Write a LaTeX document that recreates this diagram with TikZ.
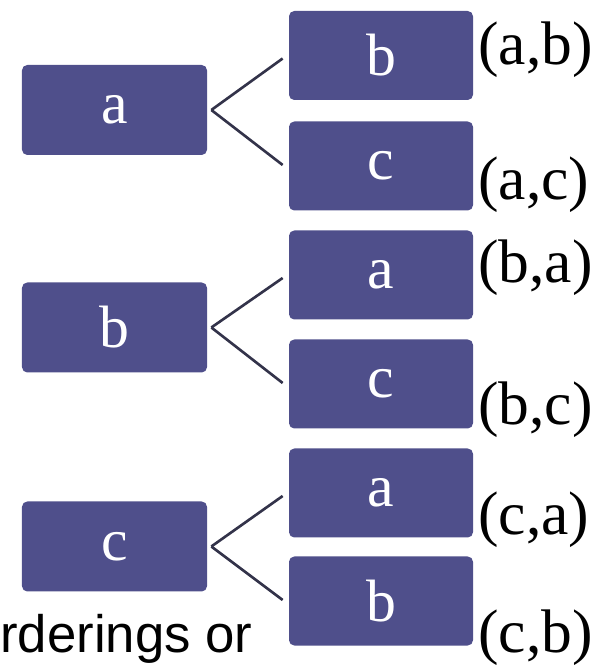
\documentclass[tikz,border=0pt]{standalone}
\usepackage{fontspec}
\setmainfont{Liberation Serif}
\newfontfamily\slidesans{Liberation Sans}
\usepackage{tikz}
\usetikzlibrary{positioning}
\definecolor{pairbox}{HTML}{4F4F8B}
\definecolor{pairline}{HTML}{33334A}

\begin{document}
\begin{tikzpicture}[
  letter/.style={draw=none,fill=pairbox,rounded corners=3pt,text=white,
    minimum width=3.68cm,minimum height=1.78cm,inner sep=0pt,
    font=\fontsize{34}{40}\selectfont},
  pairlbl/.style={anchor=west,inner sep=0pt,font=\fontsize{35}{40}\selectfont},
  edge/.style={draw=pairline,line width=1.5pt}
]
  \useasboundingbox (0,0) rectangle (12.16,13.42);

  % first element a
  \node[letter,minimum width=3.70cm,minimum height=1.80cm] (ra) at (2.29,11.22) {a};
  \node[letter] (ab) at (7.62,12.31) {b};
  \node[letter] (ac) at (7.62,10.10) {c};
  \draw[edge] ([xshift=0.08cm]ra.east) -- ([xshift=-0.12cm,yshift=-0.06cm]ab.west);
  \draw[edge] ([xshift=0.08cm]ra.east) -- ([xshift=-0.12cm,yshift=0.02cm]ac.west);
  \node[pairlbl] (lab) at (9.56,12.42) {(a,b)};
  \node[pairlbl] (lac) at (9.56,9.72) {(a,c)};

  % first element b
  \node[letter,minimum width=3.70cm,minimum height=1.80cm] (rb) at (2.29,6.87) {b};
  \node[letter] (ba) at (7.62,7.92) {a};
  \node[letter] (bc) at (7.62,5.74) {c};
  \draw[edge] ([xshift=0.08cm]rb.east) -- ([xshift=-0.12cm,yshift=-0.06cm]ba.west);
  \draw[edge] ([xshift=0.08cm]rb.east) -- ([xshift=-0.12cm,yshift=0.02cm]bc.west);
  \node[pairlbl] (lba) at (9.56,8.06) {(b,a)};
  \node[pairlbl] (lbc) at (9.56,5.22) {(b,c)};

  % first element c
  \node[letter,minimum width=3.70cm,minimum height=1.80cm] (rc) at (2.29,2.49) {c};
  \node[letter] (ca) at (7.62,3.56) {a};
  \node[letter] (cb) at (7.62,1.40) {b};
  \draw[edge] ([xshift=0.08cm]rc.east) -- ([xshift=-0.12cm,yshift=-0.06cm]ca.west);
  \draw[edge] ([xshift=0.08cm]rc.east) -- ([xshift=-0.12cm,yshift=0.02cm]cb.west);
  \node[pairlbl] (lca) at (9.56,3.02) {(c,a)};
  \node[pairlbl] (lcb) at (9.56,0.66) {(c,b)};

  % cut-off slide text
  \node[anchor=base west,inner sep=0pt,font=\slidesans\fontsize{30}{36}\selectfont]
    (cut) at (0,0.36) {rderings or};
\end{tikzpicture}
\end{document}
